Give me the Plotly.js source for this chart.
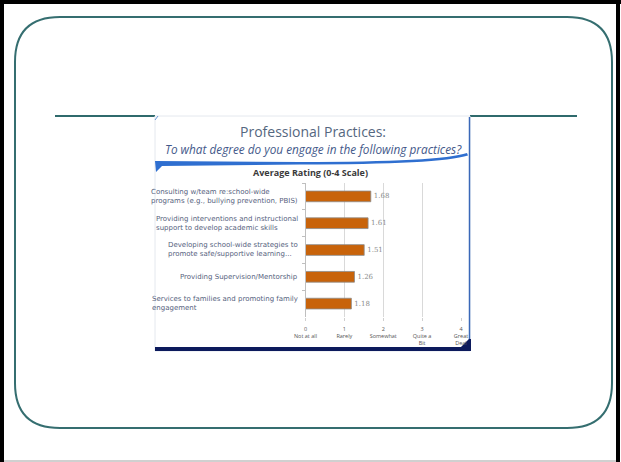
<!DOCTYPE html>
<html>
<head>
<meta charset="utf-8">
<script src="https://cdn.plot.ly/plotly-3.0.1.min.js"></script>
<style>
  html, body { margin: 0; padding: 0; background: #ffffff; }
  #chart { width: 621px; height: 462px; }
</style>
</head>
<body>
<div id="chart"></div>
<script>
// ---- data ----
var categories = [
  "Consulting w/team re:school-wide\nprograms (e.g., bullying prevention, PBIS)",
  "Providing interventions and instructional\nsupport to develop academic skills",
  "Developing school-wide strategies to\npromote safe/supportive learning...",
  "Providing Supervision/Mentorship",
  "Services to families and promoting family\nengagement"
];
var ratings = [1.68, 1.61, 1.51, 1.26, 1.18];
var scaleValues = [0, 1, 2, 3, 4];
var scaleLabels = ["0<br>Not at all", "1<br>Rarely", "2<br>Somewhat", "3<br>Quite a<br>Bit", "4<br>Great<br>Deal"];
var slideTitle = "Professional Practices:";
var slideSubtitle = "To what degree do you engage in the following practices?";
var chartTitle = "Average Rating (0-4 Scale)";

// ---- layout helpers (pixel -> paper) ----
var W = 621, H = 462;
function px(x) { return x / W; }
function py(y) { return 1 - y / H; }
function P(x, y) { return px(x).toFixed(5) + "," + py(y).toFixed(5); }

var FONT = "'Open Sans', Lato, sans-serif";
var LABEL_FONT = "'DejaVu Sans', sans-serif";
var catKeys = categories.map(function (c) { return c.replace(/\n/g, " "); });

var trace = {
  type: "bar",
  orientation: "h",
  y: catKeys,
  x: ratings,
  marker: { color: "#c8630a", line: { color: "rgba(140,140,140,0.8)", width: 1 } },
  text: ratings.map(function (v) { return v.toFixed(2); }),
  textposition: "outside",
  textfont: { family: "'DejaVu Serif', serif", size: 7, color: "#8a8a8a" },
  cliponaxis: false,
  hoverinfo: "none"
};

var shapes = [
  // outer frame
  { type: "rect", xref: "paper", yref: "paper", x0: px(0), x1: px(4), y0: py(462), y1: py(0), fillcolor: "#000", line: { width: 0 }, layer: "below" },
  { type: "rect", xref: "paper", yref: "paper", x0: px(0), x1: px(621), y0: py(4), y1: py(0), fillcolor: "#000", line: { width: 0 }, layer: "below" },
  { type: "rect", xref: "paper", yref: "paper", x0: px(616), x1: px(620), y0: py(462), y1: py(0), fillcolor: "#000", line: { width: 0 }, layer: "below" },
  { type: "rect", xref: "paper", yref: "paper", x0: px(4), x1: px(616), y0: py(462), y1: py(460), fillcolor: "#d0d0d0", line: { width: 0 }, layer: "below" },
  // rounded slide frame
  { type: "path", xref: "paper", yref: "paper", layer: "below",
    path: "M " + P(60, 17) + " L " + P(567, 17) + " Q " + P(612, 17) + " " + P(612, 62) +
          " L " + P(612, 383) + " Q " + P(612, 428) + " " + P(567, 428) +
          " L " + P(60, 428) + " Q " + P(15, 428) + " " + P(15, 383) +
          " L " + P(15, 62) + " Q " + P(15, 17) + " " + P(60, 17) + " Z",
    line: { color: "#356e70", width: 2 } },
  // teal rules
  { type: "line", xref: "paper", yref: "paper", x0: px(55), x1: px(155), y0: py(116), y1: py(116), line: { color: "#2f6a6c", width: 2 }, layer: "below" },
  { type: "line", xref: "paper", yref: "paper", x0: px(470), x1: px(577), y0: py(116), y1: py(116), line: { color: "#2f6a6c", width: 2 }, layer: "below" },
  // picture box
  { type: "rect", xref: "paper", yref: "paper", x0: px(155), x1: px(470), y0: py(351), y1: py(116), fillcolor: "#ffffff", line: { color: "#e4e8ee", width: 1 }, layer: "below" },
  // right blue edge
  { type: "line", xref: "paper", yref: "paper", x0: px(469.5), x1: px(469.5), y0: py(117), y1: py(348), line: { color: "#3a68b8", width: 1.5 }, layer: "below" },
  // navy bottom bar
  { type: "path", xref: "paper", yref: "paper", layer: "below",
    path: "M " + P(155, 347) + " L " + P(461, 347) + " L " + P(469, 339) + " L " + P(471, 339) + " L " + P(471, 351) + " L " + P(155, 351) + " Z",
    fillcolor: "#0c1a5c", line: { width: 0 } },
  // blue swoosh under the heading
  { type: "path", xref: "paper", yref: "paper", layer: "below",
    path: "M " + P(155, 161) + " L " + P(300, 162) + " Q " + P(440, 162) + " " + P(467, 153) +
          " L " + P(468, 155.5) + " Q " + P(440, 164.5) + " " + P(300, 164.5) + " L " + P(162, 166) +
          " L " + P(156, 172) + " Z",
    fillcolor: "#2f6fd0", line: { width: 0 } },
  // small corner tick top-left of picture
  { type: "line", xref: "paper", yref: "paper", x0: px(155), x1: px(158), y0: py(120), y1: py(116), line: { color: "#6a9ad8", width: 1 }, layer: "below" }
];

var annotations = [
  { xref: "paper", yref: "paper", x: px(313), y: py(131), text: slideTitle, showarrow: false,
    xanchor: "center", yanchor: "middle", font: { family: FONT, size: 14, color: "#556780" } },
  { xref: "paper", yref: "paper", x: px(313), y: py(149), text: "<i>" + slideSubtitle + "</i>", showarrow: false,
    xanchor: "center", yanchor: "middle", font: { family: FONT, size: 11.8, color: "#44598a" } },
  { xref: "paper", yref: "paper", x: px(310), y: py(172), text: "<b>" + chartTitle + "</b>", showarrow: false,
    xanchor: "center", yanchor: "middle", font: { family: FONT, size: 9, color: "#3a3a3a" } }
];

// category labels: left-aligned text block, right edge next to the axis
categories.forEach(function (c, i) {
  annotations.push({
    xref: "paper", yref: "y", x: px(299), y: catKeys[i],
    text: c.split("\n").join("<br>"), showarrow: false,
    xanchor: "right", yanchor: "middle", align: "left", borderpad: 0,
    font: { family: LABEL_FONT, size: 7, color: "#56627e" }
  });
});

var layout = {
  width: W, height: H,
  margin: { l: 0, r: 0, t: 0, b: 0, pad: 0 },
  paper_bgcolor: "#ffffff",
  plot_bgcolor: "rgba(0,0,0,0)",
  showlegend: false,
  bargap: 0.6,
  xaxis: {
    domain: [px(305.5), px(461)],
    range: [0, 4],
    tickvals: scaleValues,
    ticktext: scaleLabels,
    tickfont: { family: FONT, size: 5.5, color: "#555" },
    ticklabelstandoff: 3,
    showgrid: true, gridcolor: "#d9d9d9", gridwidth: 1,
    zeroline: false, showline: false,
    ticks: "outside", ticklen: 3, tickcolor: "#d0d0d0",
    fixedrange: true
  },
  yaxis: {
    domain: [py(317), py(183)],
    autorange: "reversed",
    type: "category",
    showticklabels: false,
    showgrid: false, zeroline: false,
    showline: true, linecolor: "#bfbfbf", linewidth: 1,
    ticks: "outside", ticklen: 3, tickcolor: "#bfbfbf", tickson: "boundaries",
    fixedrange: true
  },
  shapes: shapes,
  annotations: annotations
};

Plotly.newPlot("chart", [trace], layout, { displayModeBar: false, staticPlot: true });
</script>
</body>
</html>
